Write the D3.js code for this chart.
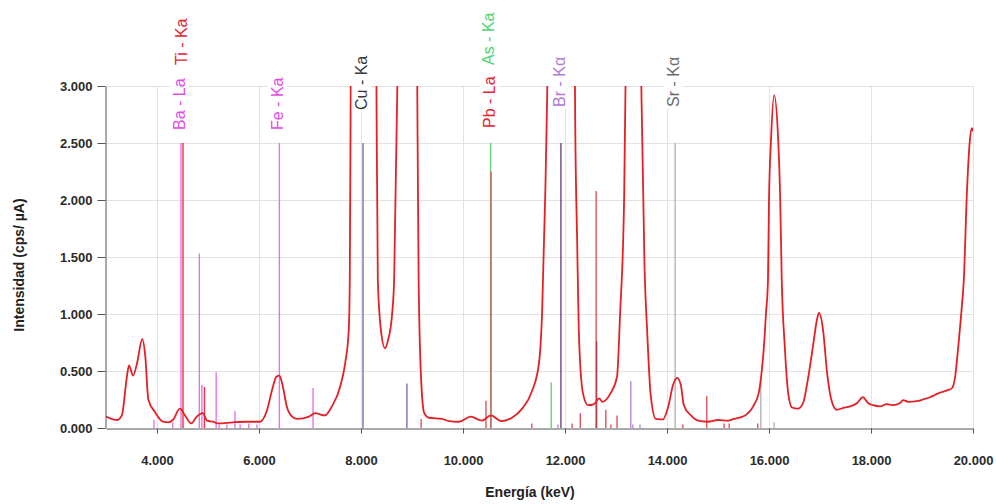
<!DOCTYPE html>
<html>
<head>
<meta charset="utf-8">
<script src="https://cdn.jsdelivr.net/npm/d3@7/dist/d3.min.js"></script>
<style>
  html, body { margin: 0; padding: 0; background: #ffffff; }
  svg { display: block; }
</style>
</head>
<body>
<svg id="chart" width="996" height="504"></svg>
<script>
// XRF spectrum: energy (keV) and intensity (cps/µA)
const energyKeV = [
  3.00, 3.14, 3.22, 3.31, 3.41, 3.45, 3.53, 3.61, 3.71, 3.77, 3.83, 3.96,
  4.12, 4.22, 4.31, 4.45, 4.55, 4.67, 4.78, 4.90, 4.98, 5.10, 5.20, 5.49,
  5.76, 6.02, 6.16, 6.26, 6.34, 6.40, 6.46, 6.55, 6.65, 6.75, 6.98, 7.10,
  7.29, 7.43, 7.59, 7.69, 7.76, 7.78, 7.80, 8.04, 8.30, 8.33, 8.39, 8.47,
  8.53, 8.61, 8.65, 8.72, 8.90, 9.10, 9.13, 9.18, 9.24, 9.33, 9.59, 9.73,
  9.92, 10.15, 10.37, 10.55, 10.75, 10.96, 11.16, 11.35, 11.49, 11.55, 11.61, 11.65,
  11.68, 11.92, 12.18, 12.20, 12.24, 12.27, 12.35, 12.45, 12.57, 12.67, 12.73, 12.90,
  13.02, 13.08, 13.16, 13.20, 13.38, 13.47, 13.50, 13.56, 13.61, 13.68, 13.78, 13.92,
  14.02, 14.12, 14.20, 14.27, 14.33, 14.47, 14.61, 14.80, 15.00, 15.20, 15.31, 15.51,
  15.69, 15.80, 15.86, 15.90, 15.94, 15.98, 16.00, 16.04, 16.10, 16.18, 16.22, 16.25,
  16.31, 16.37, 16.45, 16.57, 16.67, 16.76, 16.86, 16.94, 16.98, 17.06, 17.14, 17.24,
  17.33, 17.45, 17.59, 17.73, 17.84, 17.94, 18.04, 18.18, 18.31, 18.43, 18.57, 18.63,
  18.73, 18.90, 19.02, 19.16, 19.25, 19.35, 19.49, 19.59, 19.65, 19.71, 19.78, 19.82,
  19.88, 19.94, 19.98, 20.00
];
const intensity = [
  0.10, 0.075, 0.07, 0.11, 0.45, 0.55, 0.46, 0.57, 0.78, 0.63, 0.25, 0.14,
  0.055, 0.05, 0.07, 0.17, 0.11, 0.04, 0.10, 0.13, 0.065, 0.055, 0.04, 0.05,
  0.055, 0.055, 0.16, 0.34, 0.45, 0.46, 0.38, 0.18, 0.10, 0.08, 0.10, 0.13,
  0.11, 0.19, 0.36, 0.57, 0.86, 1.3, 3.2, 20, 3.2, 1.3, 0.86, 0.70,
  0.77, 1.0, 1.3, 3.2, 15, 3.2, 1.3, 0.42, 0.13, 0.09, 0.08, 0.06,
  0.055, 0.10, 0.065, 0.11, 0.06, 0.09, 0.17, 0.32, 0.57, 1.0, 2.0, 2.9,
  4, 20, 4, 2.7, 1.6, 0.86, 0.31, 0.20, 0.21, 0.26, 0.23, 0.31,
  0.45, 1.0, 2.03, 3.5, 20, 4, 2.9, 1.4, 0.86, 0.29, 0.08, 0.075,
  0.18, 0.38, 0.44, 0.38, 0.20, 0.11, 0.064, 0.055, 0.07, 0.064, 0.08, 0.105,
  0.19, 0.31, 0.51, 0.71, 1.0, 1.3, 2.0, 2.53, 2.92, 2.53, 2.0, 1.3,
  0.71, 0.33, 0.18, 0.17, 0.22, 0.42, 0.71, 0.95, 1.01, 0.86, 0.48, 0.22,
  0.16, 0.175, 0.19, 0.22, 0.27, 0.22, 0.20, 0.19, 0.21, 0.20, 0.22, 0.245,
  0.23, 0.235, 0.25, 0.27, 0.29, 0.31, 0.33, 0.35, 0.45, 0.71, 1.06, 1.3,
  2.06, 2.53, 2.63, 2.60
];

// Axis ticks
const xTicks = [4, 6, 8, 10, 12, 14, 16, 18, 20];
const yTicks = [0, 0.5, 1, 1.5, 2, 2.5, 3];

// Emission line markers: energy (keV), relative height, line family
const markerEnergy = [
  3.94, 4.31, 4.47, 4.51, 4.83, 4.88, 4.93, 5.16, 5.22, 5.37, 5.53, 5.63,
  5.80, 5.96, 6.40, 7.06, 8.04, 8.90, 9.18, 10.45, 10.54, 10.55, 11.35, 11.73,
  11.86, 11.92, 12.14, 12.30, 12.61, 12.62, 12.80, 12.90, 13.02, 13.29, 13.33, 13.47,
  14.16, 14.31, 14.78, 15.12, 15.22, 15.78, 15.84, 16.10
];
const markerHeight = [
  0.07, 0.05, 2.5, 2.5, 1.53, 0.38, 0.36, 0.49, 0.03, 0.03, 0.15, 0.03,
  0.04, 0.03, 2.5, 0.35, 2.5, 0.39, 0.08, 0.24, 2.5, 2.25, 0.04, 0.40,
  0.03, 2.5, 0.04, 0.13, 2.08, 0.76, 0.16, 0.03, 0.11, 0.41, 0.03, 0.03,
  2.5, 0.03, 0.28, 0.04, 0.04, 0.04, 0.42, 0.05
];
const markerFamily = [
  "Ba", "Ba", "Ba", "Ti", "Ba", "Ba", "Ti", "Ba", "Ba", "Ba", "Ba", "Ba",
  "Ba", "Ba", "Fe", "Fe", "Cu", "Cu", "Pb", "Pb", "As", "Pb", "Pb", "As",
  "Br", "BrKa", "Pb", "Pb", "Pb", "PbDark", "Pb", "Pb", "Pb", "Br", "Br", "Br",
  "Sr", "Pb", "Pb", "Pb", "Pb", "Pb", "Sr", "Sr"
];

// Line identification labels
const labelText = ["Ba - La", "Ti - Ka", "Fe - Ka", "Cu - Ka", "Pb - La", "As - Ka", "Br - Kα", "Sr - Kα"];
const labelEnergy = [4.47, 4.51, 6.40, 8.04, 10.55, 10.54, 11.92, 14.16];
const labelFamily = ["Ba", "Ti", "Fe", "Cu", "Pb", "As", "Br", "Sr"];

// ---- drawing ----
const fontFamily = "'Liberation Sans', Arial, Helvetica, sans-serif";
const svg = d3.select("#chart");
const plot = { left: 106, right: 973, top: 86, bottom: 428 };

const x = d3.scaleLinear().domain([3, 20]).range([plot.left, plot.right]);
const y = d3.scaleLinear().domain([0, 3]).range([plot.bottom, plot.top]);
const fmt = d3.format(".3f");

const lineColor = {
  Ba: "#e673e6", Ti: "#ec3340", Fe: "#e673e6", Cu: "#7474b2", As: "#62d37c",
  Pb: "#e4525c", PbDark: "#b0404a", Br: "#b98ad6", BrKa: "#6e4680", Sr: "#b5b5b5"
};
const labelColor = {
  Ba: "#e24be4", Ti: "#e8232d", Fe: "#e24be4", Cu: "#3a3a3a", As: "#4fd472",
  Pb: "#e8232d", Br: "#b07bd3", Sr: "#6c6c6c"
};
// bottom edge (y) of each rotated label; stacked labels sit above their neighbour
const labelBase = { Ba: 130, Ti: 65, Fe: 130, Cu: 110, Pb: 128, As: 65, Br: 107, Sr: 107 };

svg.append("rect").attr("width", 996).attr("height", 504).attr("fill", "#ffffff");

svg.append("defs").append("clipPath").attr("id", "plot-clip")
  .append("rect")
  .attr("x", plot.left).attr("y", plot.top)
  .attr("width", plot.right - plot.left).attr("height", plot.bottom - plot.top);

// grid
const grid = svg.append("g").attr("stroke", "#e2e2e2").attr("stroke-width", 1);
grid.selectAll("line.v").data(xTicks).join("line")
  .attr("class", "v")
  .attr("x1", d => Math.round(x(d)) + 0.5).attr("x2", d => Math.round(x(d)) + 0.5)
  .attr("y1", plot.top).attr("y2", plot.bottom);
grid.selectAll("line.h").data(yTicks.filter(d => d > 0)).join("line")
  .attr("class", "h")
  .attr("x1", plot.left).attr("x2", plot.right)
  .attr("y1", d => Math.round(y(d)) + 0.5).attr("y2", d => Math.round(y(d)) + 0.5);

// emission line markers
const markers = markerEnergy.map((e, i) => ({ e, h: markerHeight[i], f: markerFamily[i] }));
svg.append("g").attr("clip-path", "url(#plot-clip)")
  .selectAll("line").data(markers).join("line")
  .attr("x1", d => x(d.e)).attr("x2", d => x(d.e))
  .attr("y1", y(0)).attr("y2", d => y(d.h))
  .attr("stroke", d => lineColor[d.f])
  .attr("stroke-width", 1.4);

// spectrum
const spectrum = energyKeV.map((e, i) => [e, intensity[i]]);
svg.append("g").attr("clip-path", "url(#plot-clip)")
  .append("path")
  .datum(spectrum)
  .attr("fill", "none")
  .attr("stroke", "#e42026")
  .attr("stroke-width", 1.8)
  .attr("stroke-linejoin", "round")
  .attr("d", d3.line().x(d => x(d[0])).y(d => y(d[1])).curve(d3.curveMonotoneX));

// axes
const yAxis = svg.append("g")
  .attr("transform", `translate(${plot.left - 0.5},0)`)
  .call(d3.axisLeft(y).tickValues(yTicks).tickFormat(fmt).tickSize(8).tickSizeOuter(0).tickPadding(5));
const xAxis = svg.append("g")
  .attr("transform", `translate(0,${plot.bottom + 0.5})`)
  .call(d3.axisBottom(x).tickValues(xTicks).tickFormat(fmt).tickSize(5).tickSizeOuter(0).tickPadding(22));

[yAxis, xAxis].forEach(a => {
  a.select(".domain").attr("stroke", "#555");
  a.selectAll(".tick line").attr("stroke", "#555");
  a.selectAll(".tick text")
    .attr("fill", "#2b2b2b")
    .attr("font-family", fontFamily)
    .attr("font-size", 13)
    .attr("font-weight", "bold");
});

// axis titles
svg.append("text")
  .attr("x", 530).attr("y", 497)
  .attr("text-anchor", "middle")
  .attr("font-family", fontFamily).attr("font-size", 14).attr("font-weight", "bold")
  .attr("fill", "#222")
  .text("Energía (keV)");
svg.append("text")
  .attr("transform", "translate(24,265) rotate(-90)")
  .attr("text-anchor", "middle")
  .attr("font-family", fontFamily).attr("font-size", 14).attr("font-weight", "bold")
  .attr("fill", "#222")
  .text("Intensidad (cps/ µA)");

// line identification labels with a light backing box
const labels = labelText.map((t, i) => ({ t, e: labelEnergy[i], f: labelFamily[i] }));
const lg = svg.append("g");
const lgItems = lg.selectAll("g").data(labels).join("g")
  .attr("transform", d => `translate(${x(d.e) - 2},${labelBase[d.f]}) rotate(-90)`);
lgItems.append("rect").attr("class", "bg");
lgItems.append("text")
  .attr("x", 0).attr("y", 0)
  .attr("dy", "0.36em")
  .attr("text-anchor", "start")
  .attr("font-family", fontFamily).attr("font-size", 16)
  .attr("fill", d => labelColor[d.f])
  .text(d => d.t);
lgItems.each(function () {
  const g = d3.select(this);
  const b = g.select("text").node().getBBox();
  g.select("rect.bg")
    .attr("x", b.x - 2).attr("y", b.y - 1)
    .attr("width", b.width + 4).attr("height", b.height + 2)
    .attr("fill", "#ffffff").attr("fill-opacity", 0.85);
});
</script>
</body>
</html>
